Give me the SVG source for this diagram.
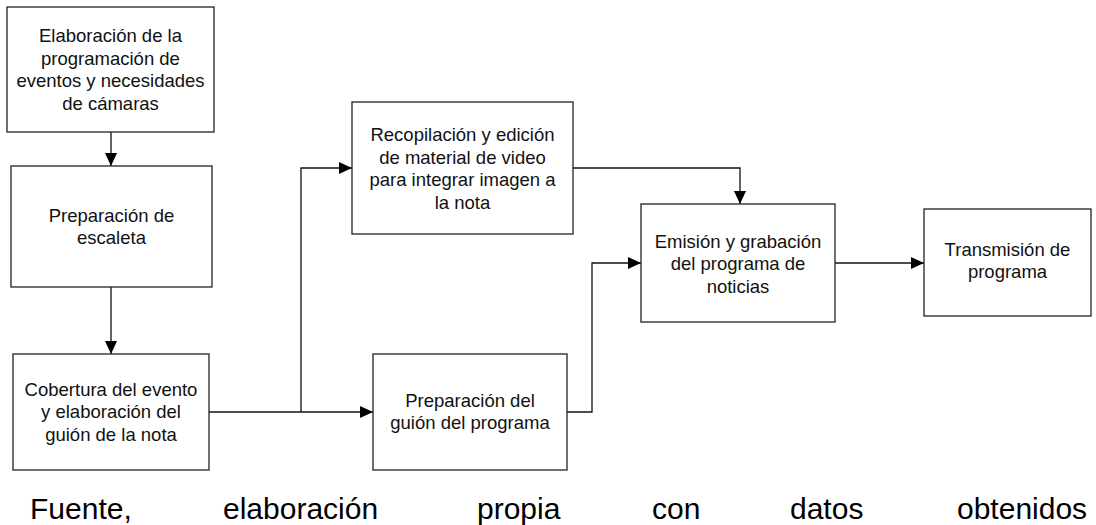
<svg xmlns="http://www.w3.org/2000/svg" width="1096" height="525" viewBox="0 0 1096 525">
<style>
.box{fill:#fff;stroke:#222;stroke-width:1.3}
.lbl{font-family:"Liberation Sans",Arial,sans-serif;font-size:18.5px;fill:#111;text-anchor:middle}
.cn{fill:none;stroke:#111;stroke-width:1.3}
.ft{font-family:"Liberation Sans",Arial,sans-serif;font-size:30px;fill:#000}
</style>
<defs>
<marker id="ah" markerUnits="userSpaceOnUse" markerWidth="14" markerHeight="12" refX="13" refY="6" orient="auto">
<path d="M0,0 L13,6 L0,12 Z" fill="#000"/>
</marker>
</defs>
<g id="connectors">
<path class="cn" d="M111 132 V166" marker-end="url(#ah)"/>
<path class="cn" d="M111 287 V354" marker-end="url(#ah)"/>
<path class="cn" d="M209 412 H373" marker-end="url(#ah)"/>
<path class="cn" d="M301 412 V168 H352" marker-end="url(#ah)"/>
<path class="cn" d="M573 168 H740 V204" marker-end="url(#ah)"/>
<path class="cn" d="M567 412 H592 V263 H641" marker-end="url(#ah)"/>
<path class="cn" d="M835 263 H924" marker-end="url(#ah)"/>
</g>
<g id="n1">
<rect class="box" x="7" y="7" width="207" height="125"/>
<text class="lbl" x="110.5" y="42">Elaboración de la</text>
<text class="lbl" x="110.5" y="64.5">programación de</text>
<text class="lbl" x="110.5" y="87">eventos y necesidades</text>
<text class="lbl" x="110.5" y="109.5">de cámaras</text>
</g>
<g id="n2">
<rect class="box" x="11" y="166" width="201" height="121"/>
<text class="lbl" x="111.5" y="222">Preparación de</text>
<text class="lbl" x="111.5" y="244">escaleta</text>
</g>
<g id="n3">
<rect class="box" x="13" y="354" width="196" height="116"/>
<text class="lbl" x="111" y="395.5">Cobertura del evento</text>
<text class="lbl" x="111" y="418">y elaboración del</text>
<text class="lbl" x="111" y="440.5">guión de la nota</text>
</g>
<g id="n4">
<rect class="box" x="352" y="102" width="221" height="132"/>
<text class="lbl" x="462.5" y="141">Recopilación y edición</text>
<text class="lbl" x="462.5" y="163.5">de material de video</text>
<text class="lbl" x="462.5" y="186">para integrar imagen a</text>
<text class="lbl" x="462.5" y="208.5">la nota</text>
</g>
<g id="n5">
<rect class="box" x="373" y="354" width="194" height="116"/>
<text class="lbl" x="470" y="407">Preparación del</text>
<text class="lbl" x="470" y="429">guión del programa</text>
</g>
<g id="n6">
<rect class="box" x="641" y="204" width="194" height="118"/>
<text class="lbl" x="738" y="247.5">Emisión y grabación</text>
<text class="lbl" x="738" y="270">del programa de</text>
<text class="lbl" x="738" y="292.5">noticias</text>
</g>
<g id="n7">
<rect class="box" x="924" y="209" width="167" height="107"/>
<text class="lbl" x="1007.5" y="255.5">Transmisión de</text>
<text class="lbl" x="1007.5" y="278">programa</text>
</g>
<g id="footer">
<text class="ft" x="30" y="519">Fuente,</text>
<text class="ft" x="223" y="519">elaboración</text>
<text class="ft" x="477" y="519">propia</text>
<text class="ft" x="652" y="519">con</text>
<text class="ft" x="790" y="519">datos</text>
<text class="ft" x="957" y="519">obtenidos</text>
</g>
</svg>
